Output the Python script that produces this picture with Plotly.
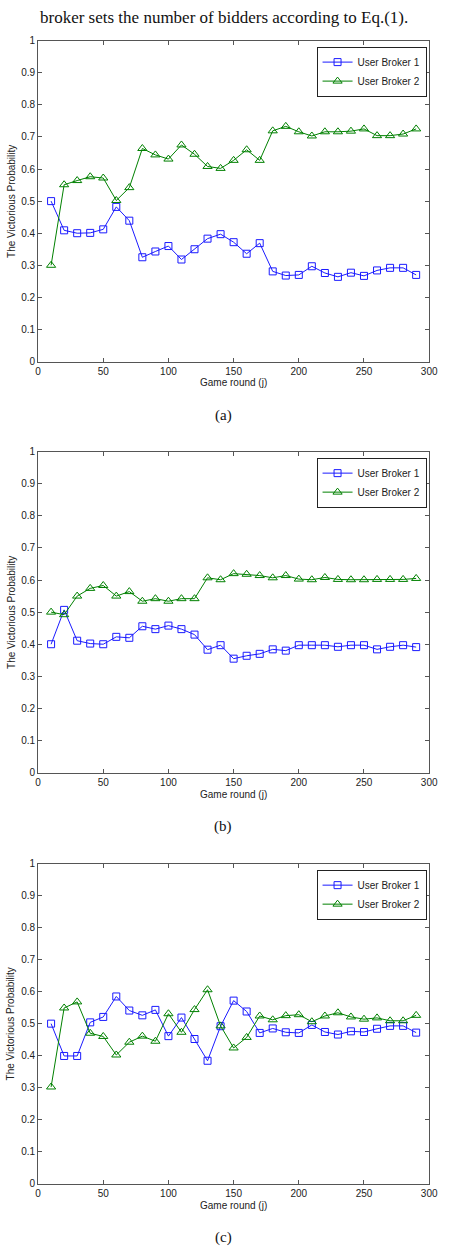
import plotly.graph_objects as go

# ---------------- data ----------------
game_round = [10, 20, 30, 40, 50, 60, 70, 80, 90, 100, 110, 120, 130, 140, 150,
              160, 170, 180, 190, 200, 210, 220, 230, 240, 250, 260, 270, 280, 290]

a_broker1 = [0.500, 0.409, 0.400, 0.401, 0.412, 0.482, 0.439, 0.325, 0.343, 0.360,
             0.318, 0.350, 0.383, 0.397, 0.372, 0.336, 0.369, 0.281, 0.268, 0.270,
             0.297, 0.276, 0.264, 0.277, 0.267, 0.284, 0.292, 0.292, 0.270]
a_broker2 = [0.300, 0.551, 0.564, 0.576, 0.572, 0.502, 0.542, 0.664, 0.644, 0.631,
             0.675, 0.646, 0.608, 0.602, 0.627, 0.660, 0.627, 0.719, 0.733, 0.716,
             0.703, 0.716, 0.716, 0.718, 0.725, 0.704, 0.704, 0.709, 0.725]

b_broker1 = [0.400, 0.507, 0.411, 0.402, 0.400, 0.423, 0.420, 0.456, 0.447, 0.458,
             0.447, 0.430, 0.383, 0.397, 0.355, 0.364, 0.370, 0.384, 0.380, 0.397,
             0.397, 0.397, 0.392, 0.397, 0.397, 0.384, 0.392, 0.397, 0.391]
b_broker2 = [0.500, 0.492, 0.550, 0.574, 0.583, 0.550, 0.564, 0.534, 0.542, 0.534,
             0.542, 0.542, 0.607, 0.601, 0.620, 0.618, 0.614, 0.607, 0.614, 0.603,
             0.601, 0.608, 0.602, 0.601, 0.601, 0.602, 0.602, 0.602, 0.605]

c_broker1 = [0.500, 0.399, 0.399, 0.504, 0.521, 0.585, 0.541, 0.526, 0.543, 0.461,
             0.519, 0.452, 0.384, 0.492, 0.572, 0.538, 0.471, 0.485, 0.473, 0.471,
             0.496, 0.474, 0.466, 0.476, 0.474, 0.484, 0.493, 0.493, 0.472]
c_broker2 = [0.302, 0.549, 0.568, 0.470, 0.460, 0.402, 0.442, 0.461, 0.445, 0.531,
             0.473, 0.544, 0.606, 0.493, 0.424, 0.457, 0.524, 0.512, 0.525, 0.528,
             0.506, 0.524, 0.534, 0.521, 0.514, 0.518, 0.509, 0.509, 0.526]

series_names = ["User Broker 1", "User Broker 2"]
captions = ["(a)", "(b)", "(c)"]
x_ticks = [0, 50, 100, 150, 200, 250, 300]
y_ticks = [0, 0.1, 0.2, 0.3, 0.4, 0.5, 0.6, 0.7, 0.8, 0.9, 1]
y_tick_labels = ["0", "0.1", "0.2", "0.3", "0.4", "0.5", "0.6", "0.7", "0.8", "0.9", "1"]
x_title = "Game round (j)"
y_title = "The Victorious Probability"
top_text = "broker sets the number of bidders according to Eq.(1)."

panels = [(a_broker1, a_broker2), (b_broker1, b_broker2), (c_broker1, c_broker2)]

# ---------------- layout geometry (pixels) ----------------
W, H = 456, 1252
plot_left, plot_right = 36, 437.7
panel_px = [(35, 359), (450, 774), (866, 1189)]  # (top, bottom)
caption_py = [413.5, 828, 1243]
xtitle_py = [380, 796, 1211]
legend_top_py = [41, 456, 872]
legend_right_px = 435

def px(v):
    return v / W

def py(v):
    return 1 - v / H

BLUE = "#1a1aff"
GREEN = "#008000"
AXCOL = "#555555"
TXT = "#222222"
SANS = "Liberation Sans, Arial, sans-serif"
SERIF = "Liberation Serif, Times New Roman, serif"

fig = go.Figure()
layout = dict(
    width=W, height=H,
    margin=dict(l=0, r=0, t=0, b=0),
    paper_bgcolor="white", plot_bgcolor="white",
    showlegend=True,
    annotations=[],
)

for i, (s1, s2) in enumerate(panels):
    k = "" if i == 0 else str(i + 1)
    leg = "legend" + k
    fig.add_trace(go.Scatter(
        x=game_round, y=s1, name=series_names[0], mode="lines+markers",
        line=dict(color=BLUE, width=1),
        marker=dict(symbol="square-open", size=7, color=BLUE, line=dict(width=1, color=BLUE)),
        xaxis="x" + k, yaxis="y" + k, legend=leg,
    ))
    fig.add_trace(go.Scatter(
        x=game_round, y=s2, name=series_names[1], mode="lines+markers",
        line=dict(color=GREEN, width=1),
        marker=dict(symbol="triangle-up-open", size=8, color=GREEN, line=dict(width=1, color=GREEN)),
        xaxis="x" + k, yaxis="y" + k, legend=leg,
    ))
    top, bot = panel_px[i]
    layout["xaxis" + k] = dict(
        domain=[px(plot_left), px(plot_right)], range=[0, 300], anchor="y" + k,
        tickmode="array", tickvals=x_ticks, ticks="inside", ticklen=4, tickcolor=AXCOL,
        showline=True, linecolor=AXCOL, linewidth=1, mirror="ticks",
        showgrid=False, zeroline=False,
        tickfont=dict(family=SANS, size=10, color=TXT),
    )
    layout["yaxis" + k] = dict(
        domain=[py(bot), py(top)], range=[0, 1], anchor="x" + k,
        tickmode="array", tickvals=y_ticks, ticktext=y_tick_labels,
        ticks="inside", ticklen=4, tickcolor=AXCOL,
        showline=True, linecolor=AXCOL, linewidth=1, mirror="ticks",
        showgrid=False, zeroline=False,
        tickfont=dict(family=SANS, size=10, color=TXT),
    )
    layout[leg] = dict(
        x=px(legend_right_px), xanchor="right", y=py(legend_top_py[i]), yanchor="top",
        bgcolor="white", bordercolor="#222222", borderwidth=1,
        font=dict(family=SANS, size=10, color=TXT), itemwidth=30,
        tracegroupgap=0,
    )
    layout["annotations"] += [
        dict(text=x_title, x=px((plot_left + plot_right) / 2), y=py(xtitle_py[i]),
             xref="paper", yref="paper", xanchor="center", yanchor="middle",
             showarrow=False, font=dict(family=SANS, size=10, color=TXT)),
        dict(text=y_title, x=px(8), y=py((top + bot) / 2), textangle=-90,
             xref="paper", yref="paper", xanchor="center", yanchor="middle",
             showarrow=False, font=dict(family=SANS, size=10, color=TXT)),
        dict(text=captions[i], x=px(226), y=py(caption_py[i]),
             xref="paper", yref="paper", xanchor="center", yanchor="middle",
             showarrow=False, font=dict(family=SERIF, size=15, color="#111111")),
    ]

layout["annotations"].append(
    dict(text=top_text, x=px(418), y=py(0), xref="paper", yref="paper",
         xanchor="right", yanchor="top", showarrow=False,
         font=dict(family=SERIF, size=17, color="#111111"))
)

fig.update_layout(**layout)
fig.write_html("out.html")
